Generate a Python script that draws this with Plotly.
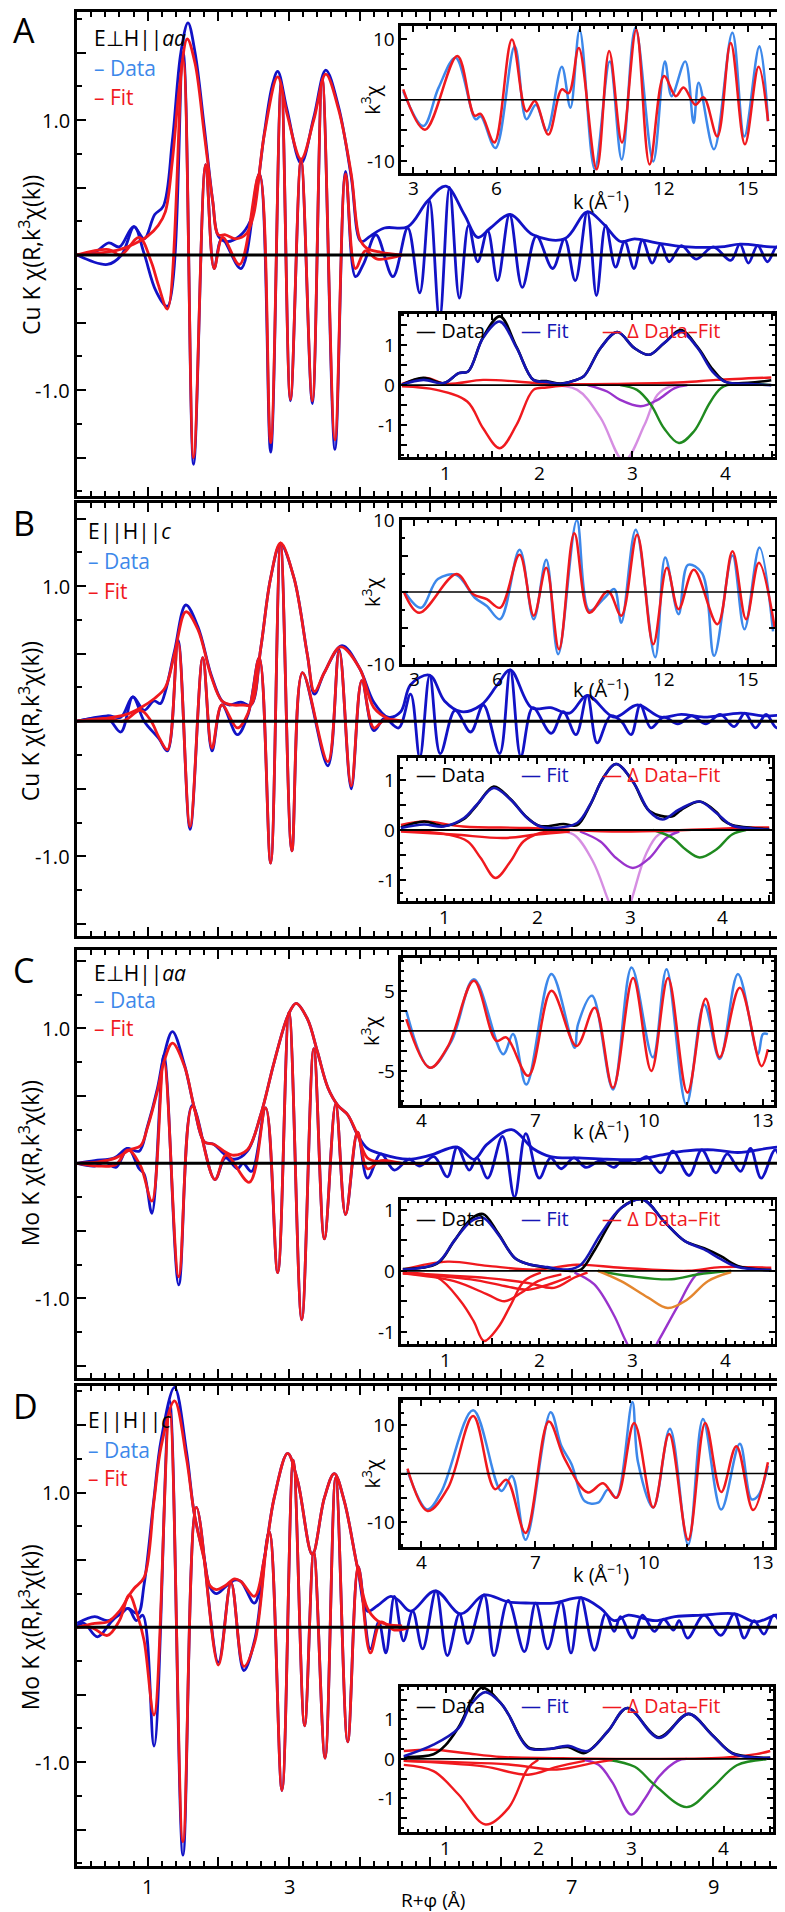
import plotly.graph_objects as go

W, H = 785, 1912
FONT = "Open Sans, Noto Sans, sans-serif"

# ======================= DATA =======================
# ---- Panel A : Cu K, E⊥H||aa ----
A_env_data = [(0,0),(0.25,0.02),(0.45,0.09),(0.6,0.06),(0.8,0.21),(0.95,0.12),(1.1,0.3),(1.22,0.36),(1.35,0.85),(1.47,1.5),(1.57,1.72),(1.67,1.5),(1.8,0.95),(1.92,0.4),(2.0,0.14),(2.12,0.1),(2.3,0.14),(2.45,0.25),(2.55,0.5),(2.65,0.9),(2.76,1.25),(2.84,1.36),(2.97,1.08),(3.17,0.68),(3.35,1.02),(3.52,1.37),(3.7,1.1),(3.88,0.58),(4.02,0.1),(4.15,0.14),(4.35,0.2),(4.68,0.21),(4.96,0.4),(5.22,0.51),(5.48,0.3),(5.67,0.13),(5.85,0.2),(6.13,0.3),(6.45,0.15),(6.9,0.12),(7.22,0.32),(7.45,0.23),(7.69,0.1),(7.89,0.12),(8.2,0.09),(8.64,0.06),(9.1,0.06),(9.39,0.08),(9.81,0.06),(10.05,0.06)]
A_env_fit = [(0,0),(0.4,0.02),(0.6,0.04),(0.8,0.08),(1.0,0.14),(1.15,0.22),(1.25,0.32),(1.35,0.7),(1.45,1.25),(1.56,1.6),(1.67,1.42),(1.8,0.9),(1.92,0.4),(2.0,0.15),(2.1,0.15),(2.25,0.12),(2.4,0.16),(2.5,0.3),(2.65,0.89),(2.84,1.32),(2.97,1.05),(3.17,0.71),(3.35,1.0),(3.52,1.34),(3.7,1.08),(3.88,0.6),(4.0,0.12),(4.1,0.05),(4.3,0.02),(4.6,0.0)]
A_re_data = [(0,0),(0.43,-0.07),(0.63,0.0),(0.81,0.21),(0.95,0.01),(1.12,-0.27),(1.28,-0.38),(1.5,1.5),(1.65,-1.55),(1.82,0.67),(1.94,-0.1),(2.05,0.12),(2.32,-0.1),(2.58,0.6),(2.74,-1.46),(2.89,1.28),(3.02,-1.08),(3.17,0.7),(3.33,-1.1),(3.47,1.3),(3.65,-1.44),(3.8,0.62),(3.94,-0.16),(4.06,-0.06),(4.23,0.15),(4.47,-0.16),(4.68,0.2),(4.85,-0.28),(4.99,0.4),(5.13,-0.48),(5.27,0.5),(5.41,-0.32),(5.54,0.22),(5.67,-0.05),(5.81,0.18),(5.95,-0.19),(6.12,0.3),(6.3,-0.24),(6.5,0.14),(6.73,-0.1),(6.9,0.12),(7.05,-0.19),(7.22,0.32),(7.35,-0.3),(7.48,0.22),(7.62,-0.09),(7.75,0.1),(7.88,-0.1),(8.0,0.11),(8.14,-0.06),(8.26,0.08),(8.38,-0.05),(8.55,0.07),(8.76,-0.03),(9.0,0.06),(9.25,-0.04),(9.38,0.08),(9.5,-0.06),(9.63,0.07),(9.77,-0.05),(9.9,0.06),(10.0,-0.04),(10.05,0.0)]
A_re_fit = [(0,0),(0.45,0.04),(0.62,0.0),(0.88,0.13),(1.05,-0.05),(1.15,-0.22),(1.28,-0.4),(1.5,1.45),(1.65,-1.5),(1.82,0.67),(1.94,-0.1),(2.06,0.13),(2.3,-0.07),(2.58,0.6),(2.74,-1.39),(2.89,1.26),(3.02,-1.07),(3.17,0.71),(3.33,-1.08),(3.47,1.3),(3.65,-1.37),(3.8,0.6),(3.94,-0.1),(4.08,0.03),(4.25,-0.03),(4.6,0.0)]
A_k_data = [(2.64,1.4),(3.36,-4.3),(3.91,2.0),(4.52,6.9),(5.24,-3.2),(5.42,-2.7),(5.95,-7.9),(6.64,8.8),(7.06,-3.2),(7.4,-0.8),(7.79,-5.1),(8.33,5.4),(8.64,-1.3),(8.97,11.5),(9.51,-11.4),(10.05,6.3),(10.48,-9.8),(10.97,11.8),(11.61,-10.1),(12.03,6.3),(12.27,0.6),(12.76,6.3),(13.06,-3.8),(13.24,2.8),(13.79,-8.1),(14.45,11.0),(14.88,-6.0),(15.42,8.8),(15.73,-3.5)]
A_k_fit = [(2.64,1.7),(3.42,-4.9),(4.58,7.2),(5.2,-2.6),(5.42,-2.3),(5.91,-7.0),(6.54,9.9),(7.06,-1.9),(7.36,-0.2),(7.85,-5.7),(8.33,1.7),(8.58,1.1),(8.94,8.5),(9.58,-11.4),(10.03,8.0),(10.49,-7.0),(11.0,11.5),(11.48,-10.6),(12.0,3.9),(12.42,0.6),(12.7,2.0),(13.12,-0.8),(13.42,0.4),(13.91,-6.0),(14.39,9.3),(14.9,-7.3),(15.39,5.4),(15.73,-3.5)]
A_ft_data = [(0.53,0.01),(0.76,0.18),(0.98,0.05),(1.14,0.3),(1.24,0.34),(1.4,1.2),(1.58,1.72),(1.76,0.95),(1.94,0.13),(2.08,0.1),(2.23,0.04),(2.37,0.11),(2.48,0.22),(2.66,0.93),(2.84,1.33),(3.02,0.93),(3.18,0.76),(3.34,1.05),(3.52,1.38),(3.7,0.95),(3.86,0.4),(4.0,0.08),(4.24,0.06),(4.49,0.12)]
A_ft_fit = [(0.53,0.01),(0.76,0.13),(0.98,0.05),(1.14,0.3),(1.24,0.34),(1.4,1.18),(1.58,1.59),(1.76,0.93),(1.94,0.13),(2.08,0.08),(2.23,0.03),(2.37,0.11),(2.48,0.22),(2.66,0.93),(2.84,1.33),(3.02,0.93),(3.18,0.76),(3.34,1.05),(3.52,1.34),(3.7,0.93),(3.86,0.34),(4.0,0.08),(4.24,0.03),(4.49,0.0)]
A_resid = [[(0.53,0.03),(0.79,0.18),(1.0,0.03),(1.4,0.13),(1.76,0.09),(2.1,0.03),(2.84,0.03),(3.55,0.07),(3.9,0.13),(4.49,0.19)]]
A_paths_red = [[(0.53,-0.03),(0.9,-0.12),(1.23,-0.41),(1.4,-1.08),(1.58,-1.58),(1.76,-0.99),(1.94,-0.12),(2.08,-0.06),(2.33,0.0)]]
A_path_lviolet = [(2.08,0.0),(2.41,-0.12),(2.66,-0.82),(2.91,-1.9),(3.13,-1.0),(3.27,-0.24),(3.41,-0.03),(3.59,0.0)]
A_path_violet = [(2.52,0.0),(2.73,-0.16),(2.87,-0.37),(3.09,-0.53),(3.27,-0.37),(3.45,-0.08),(3.59,0.0)]
A_path_green = [(2.87,0.0),(3.05,-0.12),(3.2,-0.49),(3.34,-1.08),(3.5,-1.45),(3.66,-1.16),(3.84,-0.41),(3.98,-0.03),(4.49,0.0)]

# ---- Panel B : Cu K, E||H||c ----
B_env_data = [(0,0),(0.43,0.04),(0.62,0.03),(0.79,0.18),(0.95,0.08),(1.09,0.15),(1.18,0.13),(1.25,0.22),(1.38,0.52),(1.54,0.86),(1.71,0.7),(1.9,0.34),(2.05,0.15),(2.15,0.12),(2.32,0.14),(2.46,0.12),(2.6,0.54),(2.74,1.06),(2.88,1.31),(3.07,1.06),(3.26,0.49),(3.36,0.2),(3.5,0.36),(3.75,0.56),(4.0,0.39),(4.2,0.14),(4.4,0.03),(4.58,0.07),(4.72,0.27),(4.99,0.34),(5.2,0.15),(5.44,0.07),(5.72,0.12),(5.95,0.27),(6.13,0.38),(6.43,0.1),(6.7,0.1),(6.97,0.06),(7.22,0.19),(7.6,0.03),(7.93,0.12),(8.26,0.03),(8.55,0.05),(8.87,0.03),(9.39,0.06),(9.7,0.04),(10.05,0.05)]
B_env_fit = [(0,0),(0.4,0.02),(0.7,0.05),(0.9,0.1),(1.1,0.17),(1.25,0.25),(1.38,0.5),(1.54,0.81),(1.71,0.68),(1.9,0.33),(2.05,0.15),(2.2,0.12),(2.35,0.12),(2.46,0.12),(2.6,0.54),(2.74,1.06),(2.88,1.32),(3.07,1.06),(3.26,0.49),(3.36,0.22),(3.5,0.36),(3.73,0.55),(4.0,0.39),(4.2,0.1),(4.4,0.02),(4.6,0.0)]
B_re_data = [(0,0),(0.43,0.02),(0.62,-0.08),(0.79,0.18),(0.95,0.0),(1.16,-0.13),(1.28,-0.22),(1.43,0.6),(1.6,-0.8),(1.78,0.47),(1.91,-0.22),(2.05,0.12),(2.27,-0.1),(2.42,0.05),(2.58,0.47),(2.74,-1.05),(2.88,1.31),(3.04,-0.96),(3.19,0.36),(3.55,-0.33),(3.71,0.53),(3.88,-0.5),(4.03,0.3),(4.2,-0.07),(4.35,0.02),(4.55,-0.05),(4.72,0.2),(4.85,-0.27),(4.99,0.34),(5.14,-0.24),(5.35,0.08),(5.57,-0.08),(5.75,0.12),(5.98,-0.24),(6.13,0.38),(6.28,-0.26),(6.45,0.1),(6.71,-0.09),(6.88,0.07),(7.06,-0.1),(7.22,0.19),(7.36,-0.16),(7.55,0.04),(7.7,0.0),(7.84,-0.1),(7.97,0.12),(8.12,-0.05),(8.3,0.03),(8.5,-0.02),(8.7,0.04),(8.9,-0.02),(9.1,0.05),(9.3,-0.04),(9.45,0.06),(9.6,-0.05),(9.75,0.05),(9.9,-0.05),(10.05,0.0)]
B_re_fit = [(0,0),(0.45,0.02),(0.65,0.0),(0.9,0.08),(1.05,0.0),(1.16,-0.12),(1.28,-0.21),(1.43,0.58),(1.6,-0.78),(1.78,0.47),(1.91,-0.2),(2.05,0.12),(2.27,-0.05),(2.42,0.06),(2.58,0.47),(2.74,-1.05),(2.88,1.32),(3.04,-0.96),(3.19,0.36),(3.55,-0.3),(3.71,0.52),(3.88,-0.48),(4.03,0.3),(4.2,-0.05),(4.35,0.01),(4.6,0.0)]
B_k_data = [(2.64,0.1),(3.24,-2.2),(3.85,1.8),(4.52,2.35),(5.18,-0.8),(5.61,-1.95),(6.09,-3.8),(6.79,5.9),(7.3,-3.8),(7.75,4.5),(8.18,-8.7),(8.85,10.0),(9.3,-2.6),(9.85,-0.8),(10.2,0.4),(10.45,-4.3),(10.97,8.7),(11.67,-9.1),(12.03,4.8),(12.51,-3.1),(12.85,3.8),(13.36,2.6),(13.79,-8.9),(14.45,5.1),(14.88,-5.2),(15.42,6.2),(15.91,-5.5)]
B_k_fit = [(2.64,-0.1),(3.18,-2.9),(4.52,2.5),(5.12,-0.3),(5.61,-1.0),(6.09,-2.2),(6.79,5.2),(7.3,-3.3),(7.75,3.4),(8.21,-8.0),(8.76,8.2),(9.3,-2.9),(9.97,0.1),(10.45,-3.3),(11.02,8.0),(11.6,-7.3),(12.09,3.4),(12.51,-2.4),(13.06,3.1),(13.91,-4.5),(14.45,5.7),(14.94,-3.8),(15.4,4.1),(15.97,-5.0)]
B_ft_data = [(0.53,0.05),(0.78,0.17),(0.99,0.08),(1.21,0.22),(1.35,0.5),(1.53,0.87),(1.71,0.62),(1.89,0.25),(2.03,0.08),(2.28,0.12),(2.43,0.1),(2.57,0.5),(2.71,1.04),(2.85,1.32),(3.03,0.97),(3.21,0.38),(3.45,0.27),(3.55,0.4),(3.75,0.57),(3.93,0.36),(4.0,0.2),(4.1,0.1),(4.32,0.04),(4.5,0.02)]
B_ft_fit = [(0.53,0.04),(0.78,0.11),(0.99,0.07),(1.21,0.24),(1.35,0.51),(1.53,0.84),(1.71,0.61),(1.89,0.24),(2.03,0.07),(2.17,0.04),(2.43,0.14),(2.57,0.51),(2.71,1.04),(2.85,1.32),(3.03,0.97),(3.21,0.37),(3.35,0.21),(3.53,0.41),(3.75,0.57),(3.93,0.34),(4.1,0.09),(4.32,0.03),(4.5,0.01)]
B_resid = [[(0.53,0.1),(0.78,0.17),(1.2,0.07),(1.9,0.04),(2.85,-0.03),(3.6,0.0),(4.32,0.05),(4.5,0.05)]]
B_paths_red = [[(0.53,-0.01),(1.03,-0.09),(1.25,-0.23),(1.39,-0.56),(1.55,-0.96),(1.71,-0.63),(1.85,-0.23),(2.03,-0.06),(2.25,-0.01)],
               [(0.53,-0.03),(1.1,-0.09),(1.64,-0.16),(1.99,-0.09),(2.35,-0.03)]]
B_path_lviolet = [(2.17,-0.03),(2.39,-0.09),(2.6,-0.63),(2.77,-1.43),(2.9,-2.0),(3.01,-1.43),(3.17,-0.49),(3.31,-0.09),(3.53,-0.03)]
B_path_violet = [(2.46,-0.03),(2.68,-0.23),(2.85,-0.56),(3.03,-0.76),(3.21,-0.56),(3.39,-0.16),(3.53,-0.03)]
B_path_green = [(3.25,0.0),(3.46,-0.16),(3.6,-0.39),(3.75,-0.55),(3.93,-0.39),(4.1,-0.09),(4.25,0.0)]

# ---- Panel C : Mo K, E⊥H||aa ----
C_env_data = [(0,0),(0.25,0.02),(0.53,0.04),(0.71,0.11),(0.88,0.09),(0.99,0.26),(1.14,0.56),(1.23,0.8),(1.35,0.975),(1.52,0.73),(1.66,0.41),(1.8,0.16),(1.94,0.14),(2.08,0.07),(2.23,0.03),(2.41,0.09),(2.6,0.36),(2.79,0.75),(2.99,1.1),(3.1,1.185),(3.26,1.07),(3.4,0.83),(3.55,0.56),(3.69,0.43),(3.83,0.36),(3.97,0.21),(4.11,0.11),(4.3,0.07),(4.68,0.03),(5.0,0.06),(5.38,0.12),(5.62,0.03),(5.8,0.14),(6.15,0.25),(6.45,0.11),(6.7,0.05),(7.1,0.04),(7.5,0.03),(7.96,0.03),(8.25,0.06),(8.58,0.09),(9.0,0.1),(9.35,0.08),(9.95,0.12),(10.05,0.1)]
C_env_fit = [(0,0),(0.3,0.01),(0.55,0.04),(0.75,0.1),(0.9,0.13),(1.0,0.27),(1.14,0.54),(1.23,0.75),(1.35,0.89),(1.52,0.72),(1.66,0.41),(1.8,0.16),(1.94,0.14),(2.08,0.09),(2.2,0.06),(2.41,0.1),(2.6,0.36),(2.79,0.75),(2.99,1.1),(3.1,1.185),(3.26,1.07),(3.4,0.83),(3.55,0.56),(3.69,0.43),(3.83,0.36),(3.97,0.21),(4.11,0.04),(4.3,0.01),(4.6,0.0),(5.1,0.0)]
C_re_data = [(0,0),(0.25,-0.02),(0.4,0.01),(0.55,-0.03),(0.72,0.11),(0.88,-0.04),(0.95,-0.08),(1.06,-0.37),(1.23,0.8),(1.44,-0.9),(1.63,0.43),(1.95,-0.12),(2.1,0.04),(2.27,-0.04),(2.35,0.0),(2.47,-0.06),(2.67,0.41),(2.84,-0.81),(3.0,1.12),(3.18,-1.16),(3.35,0.85),(3.5,-0.56),(3.66,0.44),(3.8,-0.38),(3.97,0.23),(4.11,-0.11),(4.3,0.07),(4.49,-0.05),(4.7,0.03),(4.85,-0.02),(5.05,0.05),(5.24,-0.1),(5.38,0.12),(5.55,-0.05),(5.66,0.04),(5.81,-0.11),(6.02,0.2),(6.19,-0.25),(6.35,0.22),(6.54,-0.11),(6.7,0.04),(6.85,-0.04),(7.03,0.04),(7.2,-0.03),(7.41,0.02),(7.6,-0.03),(7.71,0.02),(7.9,0.0),(8.06,0.05),(8.26,-0.07),(8.43,0.09),(8.66,-0.09),(8.84,0.1),(9.04,-0.07),(9.2,0.07),(9.39,-0.06),(9.53,0.11),(9.68,-0.11),(9.88,0.1),(10.01,-0.06),(10.05,0.0)]
C_re_fit = [(0,0),(0.3,-0.02),(0.55,-0.01),(0.72,0.1),(0.9,-0.02),(1.06,-0.28),(1.23,0.75),(1.44,-0.84),(1.63,0.42),(1.95,-0.12),(2.11,0.06),(2.44,-0.14),(2.67,0.41),(2.84,-0.81),(3.0,1.12),(3.18,-1.16),(3.35,0.85),(3.5,-0.56),(3.66,0.44),(3.8,-0.38),(3.97,0.23),(4.11,-0.04),(4.3,0.02),(4.6,0.0),(5.1,0.0)]
C_k_data = [(3.61,2.5),(4.23,-4.6),(4.8,-1.25),(5.39,6.45),(6.16,-2.9),(6.42,-0.4),(6.77,-6.7),(7.43,7.1),(8.04,-2.1),(8.13,0.8),(8.5,4.4),(9.05,-7.3),(9.54,7.9),(10.1,-3.3),(10.46,7.7),(10.98,-9.2),(11.45,3.3),(11.86,-3.5),(12.34,7.1),(12.87,-2.9),(13.0,-0.4),(13.13,-0.4)]
C_k_fit = [(3.61,1.46),(4.23,-4.6),(4.71,-1.9),(5.39,6.25),(5.98,-1.25),(6.24,-0.8),(6.82,-5.6),(7.43,5.0),(8.09,-1.9),(8.57,2.9),(9.05,-7.1),(9.58,6.6),(10.06,-5.0),(10.5,6.6),(11.01,-7.7),(11.49,4.0),(11.86,-3.3),(12.39,5.4),(12.96,-4.4),(13.13,-2.3)]
C_ft_data = [(0.54,0.03),(0.91,0.12),(1.09,0.49),(1.27,0.85),(1.4,0.93),(1.56,0.62),(1.74,0.21),(1.88,0.11),(2.09,0.05),(2.31,0.0),(2.45,0.02),(2.6,0.35),(2.88,1.03),(3.11,1.17),(3.34,0.81),(3.56,0.49),(3.77,0.37),(3.95,0.24),(4.13,0.08),(4.49,0.01)]
C_ft_fit = [(0.54,0.02),(0.91,0.13),(1.09,0.49),(1.27,0.81),(1.4,0.87),(1.56,0.6),(1.74,0.21),(1.88,0.11),(2.09,0.06),(2.31,0.02),(2.45,0.1),(2.66,0.6),(2.88,1.03),(3.11,1.17),(3.34,0.81),(3.56,0.49),(3.77,0.35),(3.95,0.19),(4.13,0.06),(4.49,0.01)]
C_resid = [[(0.54,0.02),(1.02,0.15),(1.45,0.08),(1.97,0.02),(2.4,0.1),(2.88,0.05),(3.6,0.0),(3.95,0.06),(4.49,0.05)]]
C_paths_red = [[(0.54,-0.03),(0.91,-0.11),(1.16,-0.5),(1.3,-0.83),(1.41,-1.15),(1.56,-0.93),(1.7,-0.55),(1.84,-0.17),(2.02,-0.03)],
               [(0.54,-0.04),(1.09,-0.17),(1.45,-0.39),(1.63,-0.5),(1.81,-0.36),(1.99,-0.17),(2.24,-0.06)],
               [(0.54,-0.04),(1.27,-0.14),(1.63,-0.25),(1.88,-0.31),(2.09,-0.23),(2.34,-0.09)],
               [(0.54,-0.04),(1.45,-0.12),(1.88,-0.2),(2.16,-0.28),(2.38,-0.11),(2.52,-0.03)]]
C_path_violet = [(2.38,-0.03),(2.59,-0.22),(2.8,-0.72),(2.93,-1.15),(3.1,-1.6),(3.28,-1.15),(3.48,-0.6),(3.7,-0.05),(3.84,-0.02)]
C_path_green = [(2.63,0.0),(2.99,-0.09),(3.42,-0.14),(3.7,-0.06),(4.06,0.0)]
C_path_orange = [(2.63,0.0),(2.88,-0.17),(3.17,-0.44),(3.38,-0.61),(3.59,-0.47),(3.81,-0.17),(4.06,-0.02)]

# ---- Panel D : Mo K, E||H||c ----
D_env_data = [(0,0.03),(0.25,0.08),(0.43,0.05),(0.62,0.1),(0.72,0.14),(0.86,0.1),(0.95,0.32),(1.09,0.96),(1.19,1.39),(1.38,1.78),(1.55,1.3),(1.66,0.84),(1.8,0.51),(1.88,0.3),(1.97,0.25),(2.1,0.3),(2.23,0.35),(2.32,0.34),(2.51,0.18),(2.65,0.51),(2.79,0.96),(2.98,1.29),(3.12,1.09),(3.33,0.54),(3.5,0.96),(3.64,1.14),(3.78,0.94),(3.97,0.44),(4.11,0.12),(4.25,0.16),(4.44,0.23),(4.55,0.2),(4.72,0.12),(5.07,0.27),(5.43,0.1),(5.76,0.24),(6.09,0.19),(6.42,0.18),(6.75,0.18),(7.13,0.22),(7.41,0.14),(7.6,0.05),(7.8,0.09),(8.18,0.05),(8.46,0.08),(8.84,0.09),(9.31,0.1),(9.6,0.04),(9.89,0.09),(10.05,0.09)]
D_env_fit = [(0,0),(0.25,0.03),(0.43,0.04),(0.6,0.12),(0.74,0.24),(0.81,0.29),(0.95,0.37),(1.09,0.94),(1.19,1.34),(1.38,1.68),(1.55,1.25),(1.66,0.84),(1.8,0.5),(1.88,0.31),(1.97,0.28),(2.1,0.31),(2.23,0.36),(2.32,0.34),(2.51,0.23),(2.65,0.51),(2.79,0.96),(2.98,1.29),(3.12,1.09),(3.33,0.54),(3.5,0.96),(3.64,1.14),(3.78,0.94),(3.97,0.44),(4.11,0.14),(4.25,0.05),(4.4,0.02),(4.6,0.01)]
D_re_data = [(0,0.01),(0.1,0.03),(0.29,-0.07),(0.5,0.05),(0.72,0.14),(0.84,0.05),(0.93,0.09),(1.09,-0.88),(1.31,1.68),(1.5,-1.69),(1.69,0.89),(2.0,-0.26),(2.18,0.33),(2.36,-0.32),(2.52,-0.08),(2.72,0.71),(2.9,-1.21),(3.06,1.24),(3.22,-0.73),(3.35,0.56),(3.51,-0.97),(3.66,1.11),(3.83,-0.85),(3.98,0.45),(4.15,-0.16),(4.27,0.04),(4.37,-0.19),(4.49,0.23),(4.62,-0.1),(4.75,0.12),(4.89,-0.16),(5.08,0.27),(5.24,-0.21),(5.41,0.1),(5.53,-0.12),(5.76,0.24),(5.9,-0.21),(6.1,0.2),(6.33,-0.18),(6.49,0.18),(6.66,-0.16),(6.85,0.19),(6.99,-0.19),(7.13,0.22),(7.32,-0.17),(7.48,0.1),(7.6,-0.03),(7.69,0.08),(7.86,-0.08),(8.0,0.09),(8.17,-0.03),(8.3,0.06),(8.44,-0.02),(8.52,0.05),(8.64,-0.08),(8.87,0.09),(9.11,-0.06),(9.3,0.1),(9.44,-0.08),(9.58,0.05),(9.72,-0.05),(9.86,0.09),(10.03,-0.08)]
D_re_fit = [(0,0),(0.2,0.0),(0.43,-0.06),(0.6,0.05),(0.74,0.24),(0.85,0.1),(0.95,-0.1),(1.09,-0.65),(1.31,1.6),(1.5,-1.59),(1.69,0.89),(2.0,-0.28),(2.18,0.33),(2.36,-0.29),(2.52,-0.1),(2.72,0.71),(2.9,-1.21),(3.06,1.24),(3.22,-0.73),(3.35,0.56),(3.51,-0.97),(3.66,1.11),(3.83,-0.85),(3.98,0.45),(4.15,-0.19),(4.3,0.04),(4.49,-0.02),(4.7,0.0)]
D_k_data = [(3.64,0.55),(4.17,-7.4),(4.54,-3.6),(5.37,13.0),(6.11,-3.6),(6.39,-0.5),(6.75,-13.6),(7.41,12.6),(7.69,5.7),(7.96,1.9),(8.31,-5.7),(8.66,-6.0),(8.92,-3.3),(9.14,-5.0),(9.56,14.7),(9.71,2.3),(10.11,-7.0),(10.55,9.2),(11.03,-14.6),(11.42,11.2),(11.9,-7.4),(12.39,6.1),(12.7,-5.3),(12.87,-4.6),(13.13,1.6)]
D_k_fit = [(3.64,1.0),(4.17,-7.7),(4.71,-2.9),(5.37,11.8),(5.94,-3.2),(6.25,-1.3),(6.75,-12.2),(7.36,10.7),(7.78,3.0),(8.39,-3.9),(8.79,-2.0),(9.14,-5.0),(9.61,10.4),(10.11,-7.0),(10.53,8.1),(11.03,-13.6),(11.48,10.4),(11.9,-3.8),(12.3,5.6),(12.74,-7.5),(13.13,2.3)]
D_ft_data = [(0.55,0.05),(0.87,0.12),(1.0,0.35),(1.14,0.8),(1.39,1.8),(1.6,1.4),(1.68,1.12),(1.89,0.3),(2.1,0.25),(2.32,0.3),(2.5,0.15),(2.75,0.7),(2.96,1.29),(3.3,0.55),(3.62,1.14),(3.87,0.62),(4.09,0.15),(4.35,0.04),(4.5,0.03)]
D_ft_fit = [(0.55,0.07),(0.87,0.36),(1.14,0.78),(1.28,1.4),(1.43,1.69),(1.6,1.4),(1.68,1.12),(1.89,0.28),(2.1,0.25),(2.32,0.33),(2.53,0.2),(2.75,0.7),(2.96,1.29),(3.3,0.53),(3.62,1.14),(3.87,0.61),(4.09,0.14),(4.36,0.03),(4.5,0.03)]
D_resid = [[(0.55,0.2),(0.87,0.23),(1.2,0.15),(1.6,0.05),(2.2,0.02),(3.0,0.0),(4.0,0.03),(4.35,0.12),(4.5,0.2)]]
D_paths_red = [[(0.55,-0.15),(0.87,-0.31),(1.14,-0.9),(1.43,-1.66),(1.68,-1.24),(1.89,-0.23),(2.0,-0.02)],
               [(0.55,-0.05),(1.41,-0.19),(1.89,-0.4),(2.2,-0.2),(2.5,-0.05)],
               [(0.55,-0.05),(1.68,-0.14),(2.2,-0.27),(2.6,-0.1),(2.8,-0.02)]]
D_path_violet = [(2.48,-0.02),(2.65,-0.15),(2.8,-0.6),(3.0,-1.41),(3.15,-1.0),(3.3,-0.45),(3.5,-0.05),(3.6,0.0)]
D_path_green = [(2.75,-0.02),(3.04,-0.2),(3.25,-0.65),(3.6,-1.22),(3.87,-0.74),(4.14,-0.16),(4.46,-0.01)]

# tick labels
MAIN_X_LABELS = [1, 3, 7, 9]
MAIN_Y_LABELS = [(1.0, "1.0"), (-1.0, "-1.0")]
FT_X_LABELS = [1, 2, 3, 4]
FT_Y_LABELS = [(1, "1"), (0, "0"), (-1, "-1")]

# ======================= STYLE =======================
C_MAIN_BLUE = "#1212c6"
C_RED = "#f0191e"
C_LBLUE = "#3d88ea"
C_FIT_BLUE = "#1515b5"
C_VIOLET = "#9933cc"
C_LVIOLET = "#d68ee2"
C_GREEN = "#1f8a1f"
C_ORANGE = "#e4862e"

def xy(pairs):
    return [p[0] for p in pairs], [p[1] for p in pairs]

fig = go.Figure()
layout = {}
annotations = []
counter = [0]

def frange(a, b, step):
    out = []
    v = a
    while v <= b + 1e-9:
        out.append(round(v, 6))
        v += step
    return out

def axis_style(lw, ticklen, mticklen, tickvals, minor_dtick, minor_tick0):
    return dict(showline=True, linecolor="black", linewidth=lw, mirror="ticks", ticks="inside",
                ticklen=ticklen, tickwidth=2, tickcolor="black", tickmode="array",
                tickvals=tickvals, showticklabels=False,
                showgrid=False, zeroline=False, fixedrange=True,
                minor=dict(ticks="inside", ticklen=mticklen, tickwidth=1.5, tickcolor="black",
                           tickmode="linear", dtick=minor_dtick, tick0=minor_tick0, showgrid=False))

def add_axes(box, xr, yr, xstyle, ystyle):
    counter[0] += 1
    n = counter[0]
    sx = "" if n == 1 else str(n)
    x0, x1, y0, y1 = box
    layout["xaxis" + sx] = dict(domain=[x0 / W, x1 / W], range=xr, anchor="y" + sx, **xstyle)
    layout["yaxis" + sx] = dict(domain=[1 - y1 / H, 1 - y0 / H], range=yr, anchor="x" + sx, **ystyle)
    return "x" + sx, "y" + sx

def line(pairs, xa, ya, color, width):
    x, y = xy(pairs)
    fig.add_trace(go.Scatter(x=x, y=y, xaxis=xa, yaxis=ya, mode="lines", hoverinfo="skip",
                             line=dict(color=color, width=width, shape="spline", smoothing=1.0)))

def hline(xr, xa, ya, width):
    fig.add_trace(go.Scatter(x=list(xr), y=[0, 0], xaxis=xa, yaxis=ya, mode="lines", hoverinfo="skip",
                             line=dict(color="black", width=width)))

def ann(text, px, py, size, color="black", xanchor="left", angle=0):
    annotations.append(dict(text=text, x=px / W, y=1 - py / H, xref="paper", yref="paper",
                            showarrow=False, xanchor=xanchor, yanchor="middle", textangle=angle,
                            font=dict(family=FONT, size=size, color=color)))

def xlabel(text, xval, xa, py, size):
    annotations.append(dict(text=text, x=xval, y=1 - py / H, xref=xa, yref="paper",
                            showarrow=False, xanchor="center", yanchor="middle",
                            font=dict(family=FONT, size=size, color="black")))

def ylabel(text, yval, ya, px, size):
    annotations.append(dict(text=text, x=px / W, y=yval, xref="paper", yref=ya,
                            showarrow=False, xanchor="right", yanchor="middle",
                            font=dict(family=FONT, size=size, color="black")))

panels = [
    dict(letter="A", elem="Cu", pol="E⊥H||<i>aa</i>", box=(69, 780, 4, 488), yr=[-1.785, 1.80],
         env_d=A_env_data, env_f=A_env_fit, re_d=A_re_data, re_f=A_re_fit,
         kbox=(393, 767, 18, 165), kxr=[2.56, 15.98], kyr=[-12, 12.1], kd=A_k_data, kf=A_k_fit,
         k0=3, klabels=[3, 6, 12, 15], kylab=[(10, "10"), (-10, "-10")], kyminor=2.5, kymajor=5,
         fbox=(393, 767, 306, 449), fyr=[-1.8, 1.78], ftd=A_ft_data, ftf=A_ft_fit, resid=A_resid,
         reds=A_paths_red, others=[(A_path_lviolet, C_LVIOLET), (A_path_violet, C_VIOLET), (A_path_green, C_GREEN)],
         leg_y=(30, 60, 89), leg_x=84, letter_y=22, klab_y=192, fleg_y=323),
    dict(letter="B", elem="Cu", pol="E||H||<i>c</i>", box=(69, 780, 495, 928), yr=[-1.59, 1.615],
         env_d=B_env_data, env_f=B_env_fit, re_d=B_re_data, re_f=B_re_fit,
         kbox=(394, 767, 512, 656), kxr=[2.56, 15.98], kyr=[-10.05, 10.05], kd=B_k_data, kf=B_k_fit,
         k0=3, klabels=[3, 6, 12, 15], kylab=[(10, "10"), (-10, "-10")], kyminor=2.5, kymajor=5,
         fbox=(392, 764, 750, 893), fyr=[-1.42, 1.44], ftd=B_ft_data, ftf=B_ft_fit, resid=B_resid,
         reds=B_paths_red, others=[(B_path_lviolet, C_LVIOLET), (B_path_violet, C_VIOLET), (B_path_green, C_GREEN)],
         leg_y=(523, 553, 583), leg_x=78, letter_y=515, klab_y=680, fleg_y=767),
    dict(letter="C", elem="Mo", pol="E⊥H||<i>aa</i>", box=(69, 780, 942, 1370), yr=[-1.59, 1.58],
         env_d=C_env_data, env_f=C_env_fit, re_d=C_re_data, re_f=C_re_fit,
         kbox=(393, 766, 950, 1097), kxr=[3.47, 13.29], kyr=[-9.25, 9.1], kd=C_k_data, kf=C_k_fit,
         k0=4, klabels=[4, 7, 10, 13], kylab=[(5, "5"), (-5, "-5")], kyminor=1.25, kymajor=2.5,
         fbox=(393, 767, 1192, 1336), fyr=[-1.2, 1.16], ftd=C_ft_data, ftf=C_ft_fit, resid=C_resid,
         reds=C_paths_red, others=[(C_path_violet, C_VIOLET), (C_path_green, C_GREEN), (C_path_orange, C_ORANGE)],
         leg_y=(965, 992, 1020), leg_x=84, letter_y=962, klab_y=1122, fleg_y=1210),
    dict(letter="D", elem="Mo", pol="E||H||<i>c</i>", box=(69, 780, 1378, 1858), yr=[-1.77, 1.79],
         env_d=D_env_data, env_f=D_env_fit, re_d=D_re_data, re_f=D_re_fit,
         kbox=(393, 766, 1392, 1539), kxr=[3.47, 13.29], kyr=[-15.1, 15.1], kd=D_k_data, kf=D_k_fit,
         k0=4, klabels=[4, 7, 10, 13], kylab=[(10, "10"), (-10, "-10")], kyminor=2.5, kymajor=5,
         fbox=(393, 765, 1679, 1824), fyr=[-1.85, 1.82], ftd=D_ft_data, ftf=D_ft_fit, resid=D_resid,
         reds=D_paths_red, others=[(D_path_violet, C_VIOLET), (D_path_green, C_GREEN)],
         leg_y=(1412, 1442, 1470), leg_x=78, letter_y=1398, klab_y=1565, fleg_y=1697),
]

MAIN_XR = [0, 10.06]
FT_XR = [0.52, 4.53]

for i, p in enumerate(panels):
    last = (i == len(panels) - 1)
    # ---------- main axes ----------
    xs = axis_style(3, 9, 5, frange(0, 10, 1), 0.2, 0)
    ys = axis_style(3, 9, 5, [-1.5, -1.0, -0.5, 0, 0.5, 1.0, 1.5], 0.25, 0)
    xa, ya = add_axes(p["box"], MAIN_XR, p["yr"], xs, ys)
    line(p["env_d"], xa, ya, C_MAIN_BLUE, 2.8)
    line(p["re_d"], xa, ya, C_MAIN_BLUE, 2.8)
    line(p["env_f"], xa, ya, C_RED, 2.8)
    line(p["re_f"], xa, ya, C_RED, 2.8)
    hline(MAIN_XR, xa, ya, 3)
    for v, t in MAIN_Y_LABELS:
        ylabel(t, v, ya, 64, 20)
    if last:
        for v in MAIN_X_LABELS:
            xlabel(str(v), v, xa, 1878, 20)

    # ---------- k-space inset ----------
    kb = p["kbox"]
    xs = axis_style(2.5, 6, 3.5, frange(p["k0"], p["kxr"][1], 1.5), 0.5, p["k0"])
    ys = axis_style(2.5, 6, 3.5, frange(-2 * p["kymajor"], 2 * p["kymajor"], p["kymajor"]), p["kyminor"], 0)
    xa, ya = add_axes(kb, p["kxr"], p["kyr"], xs, ys)
    line(p["kd"], xa, ya, C_LBLUE, 2.5)
    line(p["kf"], xa, ya, C_RED, 2.5)
    hline(p["kxr"], xa, ya, 1.6)
    for v in p["klabels"]:
        xlabel(str(v), v, xa, kb[3] + 15, 19)
    for v, t in p["kylab"]:
        ylabel(t, v, ya, 389, 19)
    zero_py = kb[2] + (kb[3] - kb[2]) * (p["kyr"][1] / (p["kyr"][1] - p["kyr"][0]))
    ann("k<sup>3</sup>χ", 363, zero_py, 20, angle=-90, xanchor="center")
    ann("k (Å<sup>−1</sup>)", 593, p["klab_y"], 20, xanchor="center")

    # ---------- FT magnitude inset ----------
    fb = p["fbox"]
    xs = axis_style(2.5, 6, 3.5, frange(0.5, 4.5, 0.5), 0.1, 0)
    ys = axis_style(2.5, 6, 3.5, [-1.5, -1.0, -0.5, 0, 0.5, 1.0, 1.5], 0.25, 0)
    xa, ya = add_axes(fb, FT_XR, p["fyr"], xs, ys)
    for path, col in p["others"]:
        line(path, xa, ya, col, 2.4)
    for path in p["reds"]:
        line(path, xa, ya, C_RED, 2.4)
    for path in p["resid"]:
        line(path, xa, ya, C_RED, 2.4)
    line(p["ftd"], xa, ya, "black", 2.6)
    line(p["ftf"], xa, ya, C_FIT_BLUE, 2.6)
    hline(FT_XR, xa, ya, 1.8)
    for v in FT_X_LABELS:
        xlabel(str(v), v, xa, fb[3] + 16, 19)
    for v, t in FT_Y_LABELS:
        ylabel(t, v, ya, 389, 19)
    fy = p["fleg_y"]
    ann("— Data", 406, fy, 20, "black")
    ann("— Fit", 511, fy, 20, C_FIT_BLUE)
    ann("— Δ Data–Fit", 592, fy, 20, C_RED)

    # ---------- main texts ----------
    ann(p["letter"], 3, p["letter_y"], 34)
    ly = p["leg_y"]
    ann(p["pol"], p["leg_x"], ly[0], 21)
    ann("– Data", p["leg_x"], ly[1], 21, C_LBLUE)
    ann("– Fit", p["leg_x"], ly[2], 21, C_RED)
    zero_main = p["box"][2] + (p["box"][3] - p["box"][2]) * (p["yr"][1] / (p["yr"][1] - p["yr"][0]))
    ann(p["elem"] + " K χ(R,k<sup>3</sup>χ(k))", 22, zero_main, 23, angle=-90, xanchor="center")

ann("R+φ (Å)", 425, 1892, 19, xanchor="center")

fig.update_layout(
    width=W, height=H, margin=dict(l=0, r=0, t=0, b=0),
    paper_bgcolor="white", plot_bgcolor="white", showlegend=False,
    font=dict(family=FONT, color="black"),
    annotations=annotations, **layout,
)
fig.write_html("out.html")
